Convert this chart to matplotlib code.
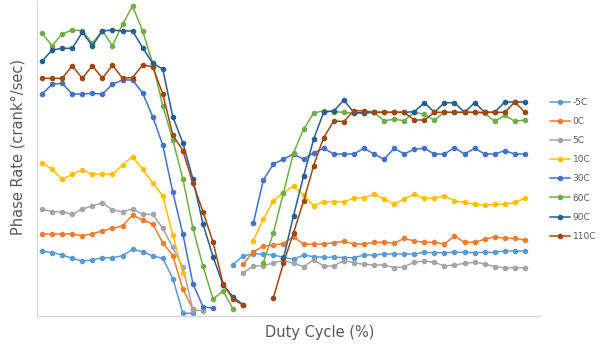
import matplotlib
matplotlib.use("Agg")
import matplotlib.pyplot as plt
import numpy as np

N = None
# category index along duty-cycle axis (49 measured points)
duty_idx = list(range(49))

series_names = ["-5C", "0C", "5C", "10C", "30C", "60C", "90C", "110C"]
colors = ["#5B9BD5", "#ED7D31", "#A5A5A5", "#FFC000", "#4472C4", "#70AD47", "#255E91", "#9E480E"]

m5C = [65, 63.3, 61, 57.7, 55, 56, 58.3, 58.3, 60.3, 66.7, 64.3, 60, 57.7, 37.5, 2.7, 2.7, N, N, N,
       51.5, 60.3, 62, 62, 61, 58.7, 56.7, 61, 59.3, 58.7, 58.7, 58.5, 58.3, 61, 61, 62, 62, 62, 62,
       63.7, 63.3, 63.3, 63.7, 63.7, 63.3, 63.7, 63.7, 65, 65, 65]
c0 = [82, 82, 82, 82, 80.3, 82, 85.3, 87.7, 90, 101, 96, 92, 73.3, 60.3, 26.7, 7, N, N, N, N,
      52, 64, 70, 71, 72.5, 79.3, 71.7, 72, 72, 73.3, 74.7, 72, 72, 73.7, 73.7, 72.7, 77.7, 75,
      73.7, 73.7, 72, 80, 73.7, 73.7, 76.7, 79.3, 77.7, 77.7, 76]
c5 = [107, 104.3, 104.3, 101.7, 107, 110, 113.3, 106, 104.3, 107, 101.7, 101.7, 87.7, 68.7, 48.7, 6, 5.3,
      N, N, N, 43.3, 50, 50, 53.3, 55.3, 52.7, 49.3, 56, 50, 50, 55.5, 53.3, 51.7, 51, 51, 48.3, 49.3,
      53.7, 55, 53.7, 50, 51, 52.7, 53.7, 52, 49.3, 48.3, 48.3, 48.3]
c10 = [153.3, 146.7, 136.7, 141.7, 146, 141.7, 141.7, 141.7, 151, 159.3, 146.7, 133, 120, 81, 42.7,
       N, N, N, N, N, N, 75.3, 96.7, 115.3, 123.3, 130, 121, 110.3, 114.3, 114.3, 114.3, 117.7, 118.3,
       121.7, 117, 111.7, 117, 121.7, 117.7, 117.7, 120.3, 115, 113.7, 111.7, 111, 111.7, 111.7, 113.7, 117.7]
c30 = [222, 231.7, 232.7, 222, 222, 222.7, 222, 231.7, 236, 236, 223, 199.3, 171, 123.7, 82, 32.3, 9.3, 7.7,
       N, N, N, 92.7, 136, 152, 156.7, 162, 156.7, 163.3, 167.7, 162, 162, 162, 167.7, 162, 156.7, 167.7,
       162, 166.7, 167.7, 162, 162, 168.3, 162, 167.7, 162, 162, 165.3, 162, 162]
c60 = [282.7, 270.3, 282, 286, 285.3, 272.7, 285.3, 270.3, 291.7, 310, 285, 252.7, 210, 176, 137, 88, 49.7,
       17, 25, 6.7, N, N, 53.3, 83.3, 123.3, 163.3, 186.7, 203, 205.3, 204.3, 203.7, 202.7, 202.7, 203.7,
       195.3, 196.7, 195.3, 203.7, 201.7, 195.7, 203.7, 203.7, 203.7, 203.7, 202.7, 194.7, 200.7, 194.7, 196]
c90 = [254.7, 266, 267.7, 267.7, 283.7, 270.3, 285, 286, 285, 285, 268.3, 252.7, 247, 199.3, 173, 137, 92,
       59.3, 31, 19, 11, N, N, N, 57.7, 100.5, 140, 176.7, 204, 205, 216, 203.3, 203.3, 203.7, 203.7, 203.7,
       203.7, 204.3, 213.3, 203.7, 213.3, 213.3, 203.7, 213.3, 203.7, 203.7, 214, 214, 214]
c110 = [237.7, 237.7, 237.7, 250.3, 237.7, 250.3, 237.7, 251, 237.7, 238.5, 251, 249.3, 222, 181, 165.3,
        132.7, 104.3, 73.7, 32, 16.7, 11, N, N, 18.5, 53, 83.3, 114.7, 150.5, 178.5, 195, 194.5, 205.3,
        205.3, 203.7, 203.7, 203.7, 203.7, 196, 196, 203.7, 203.7, 203.7, 203.7, 203.7, 203.7, 203.7,
        203.7, 214, 203.7]

all_series = [m5C, c0, c5, c10, c30, c60, c90, c110]

W, H = 604, 348
fig = plt.figure(figsize=(W / 100, H / 100), dpi=100)
ax = fig.add_axes([37 / W, (H - 316) / H, (540 - 37) / W, (316 - 2) / H])

x = np.array(duty_idx, dtype=float)
for name, col, vals in zip(series_names, colors, all_series):
    y = np.array([np.nan if v is None else v for v in vals], dtype=float)
    ax.plot(x, y, color=col, lw=1.1, marker="o", ms=3.0, mec=col, mfc=col, label=name)

ax.set_xlim(-0.5, 49.5)
ax.set_ylim(0, 314)
ax.set_xticks([])
ax.set_yticks([])
for s in ["top", "right"]:
    ax.spines[s].set_visible(False)
for s in ["left", "bottom"]:
    ax.spines[s].set_color("#D9D9D9")
    ax.spines[s].set_linewidth(1.0)

txtcol = "#595959"
fig.text(18 / W, 1 - 147 / H, "Phase Rate (crank°/sec)", rotation=90, ha="center", va="center",
         fontsize=10.5, color=txtcol)
fig.text(320 / W, 1 - 333 / H, "Duty Cycle (%)", ha="center", va="center", fontsize=10.5, color=txtcol)

leg = fig.legend(loc="upper left", bbox_to_anchor=(550 / W, 1 - 98 / H), frameon=False,
                 fontsize=6.5, handlelength=2.2, labelspacing=1.12, handletextpad=0.3,
                 borderaxespad=0, borderpad=0)
for t in leg.get_texts():
    t.set_color(txtcol)

fig.savefig("out.png", dpi=100)
